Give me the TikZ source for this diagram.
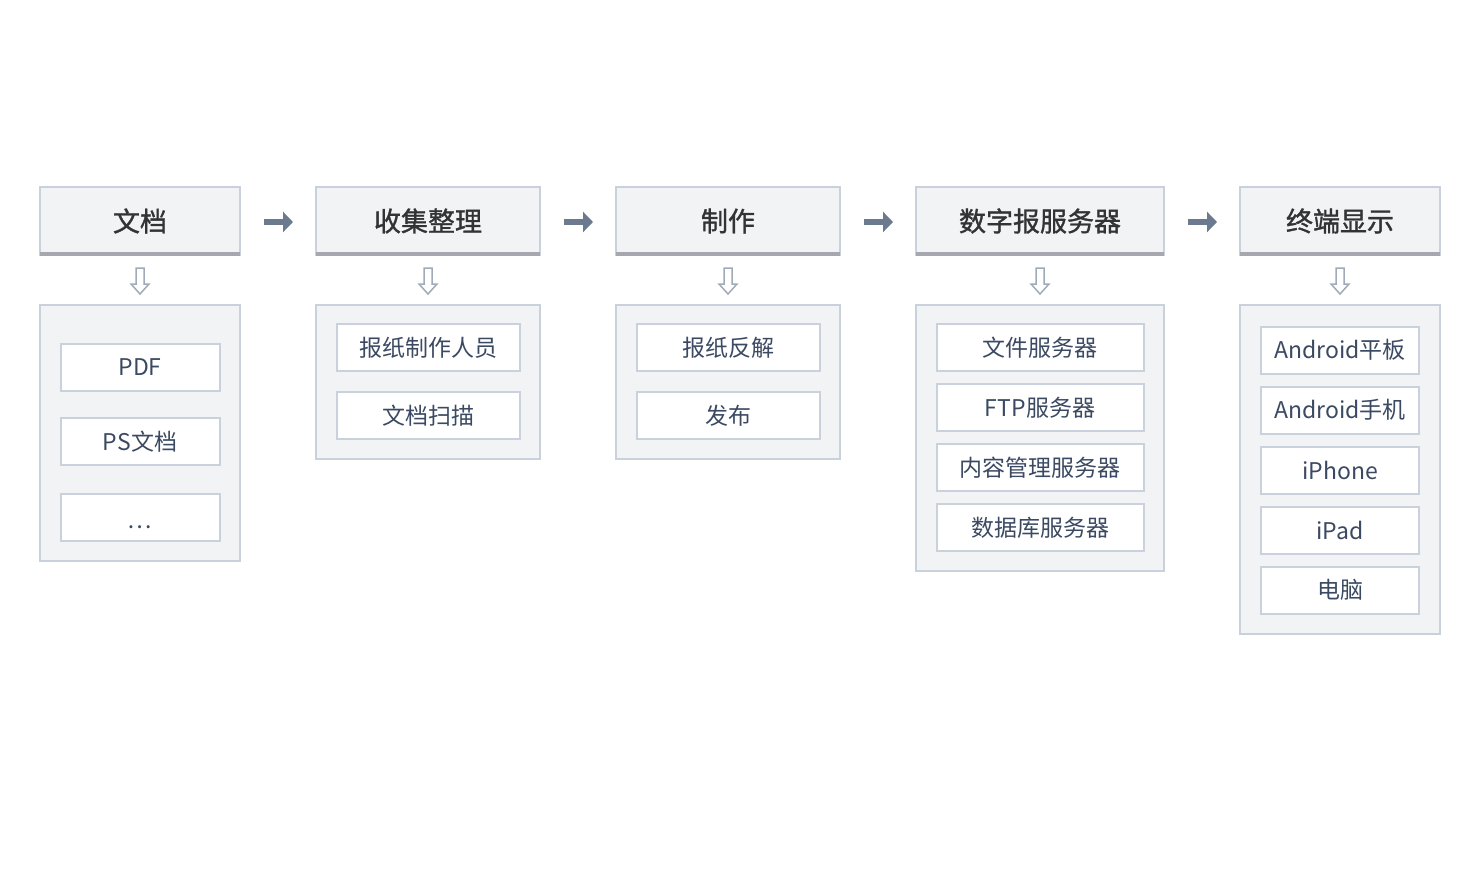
\documentclass[tikz,border=0pt]{standalone}
\usepackage{fontspec}
\setmainfont{Noto Sans CJK SC}
\newfontfamily\hdrfont[FakeBold=1.2]{Noto Sans CJK SC}
\usetikzlibrary{arrows.meta,calc}
\definecolor{hdrfill}{HTML}{F1F3F5}
\definecolor{boxline}{HTML}{C9D1DC}
\definecolor{barcol}{HTML}{A6A7AF}
\definecolor{hdrtext}{HTML}{333333}
\definecolor{itemtext}{HTML}{3B4A62}
\definecolor{arrcol}{HTML}{6B7A8F}
\definecolor{darrcol}{HTML}{A0ABBA}
\tikzset{
  hdr/.style={draw=boxline, line width=2pt, fill=hdrfill, inner sep=0pt, minimum height=68pt,
    text=hdrtext, font=\fontsize{27}{30}\hdrfont},
  bar/.style={draw=barcol, line width=4pt},
  cbox/.style={draw=boxline, line width=2pt, fill=hdrfill, inner sep=0pt},
  item/.style={draw=boxline, line width=2pt, fill=white, inner sep=0pt, minimum height=47pt,
    text=itemtext, font=\fontsize{23}{26}\selectfont},
  rarrow/.style={draw=arrcol, line width=6pt, -{Triangle[length=10pt,width=20pt]},
    shorten <=23pt, shorten >=22pt},
  darrow/.style={draw=darrcol, line width=1.5pt, fill=white, line join=miter},
  pics/downarr/.style={code={
    \draw[darrow] (-4,-13) -- (-4,3) -- (-9,3) -- (0,13) -- (9,3) -- (4,3) -- (4,-13) -- cycle;}}
}
\begin{document}
\begin{tikzpicture}[x=1pt,y=-1pt]
\useasboundingbox (0,0) rectangle (1480,880);
% headers
\node[hdr, minimum width=200pt] (h1) at (140,221) {文档};
\node[hdr, minimum width=224pt] (h2) at (428,221) {收集整理};
\node[hdr, minimum width=224pt] (h3) at (728,221) {制作};
\node[hdr, minimum width=248pt] (h4) at (1040,221) {数字报服务器};
\node[hdr, minimum width=200pt] (h5) at (1340,221) {终端显示};
\foreach \h in {h1,h2,h3,h4,h5}{
  \draw[bar] (\h.south west) ++(1,-2) -- ($(\h.south east)+(-1,-2)$);
}
% right arrows
\draw[rarrow] ($(h1.east)+(0,1)$) -- ($(h2.west)+(0,1)$);
\draw[rarrow] ($(h2.east)+(0,1)$) -- ($(h3.west)+(0,1)$);
\draw[rarrow] ($(h3.east)+(0,1)$) -- ($(h4.west)+(0,1)$);
\draw[rarrow] ($(h4.east)+(0,1)$) -- ($(h5.west)+(0,1)$);
% content boxes
\node[cbox, minimum width=200pt, minimum height=256pt] (c1) at (140,433) {};
\node[cbox, minimum width=224pt, minimum height=154pt] (c2) at (428,382) {};
\node[cbox, minimum width=224pt, minimum height=154pt] (c3) at (728,382) {};
\node[cbox, minimum width=248pt, minimum height=266pt] (c4) at (1040,438) {};
\node[cbox, minimum width=200pt, minimum height=329pt] (c5) at (1340,469.5) {};
% down arrows
\foreach \i in {1,...,5}{
  \pic at ($(h\i.south)!0.5!(c\i.north)+(0,1)$) {downarr};
}
% items column 1
\node[item, minimum width=159pt] (i11) at (140,367.5) {PDF};
\node[item, minimum width=159pt] (i12) at (140,441.5) {PS文档};
\node[item, minimum width=159pt] (i13) at (140,517.5) {\smash{\raisebox{-11pt}{…}}};
% column 2
\node[item, minimum width=183pt] (i21) at (428,347.5) {报纸制作人员};
\node[item, minimum width=183pt] (i22) at (428,415.5) {文档扫描};
% column 3
\node[item, minimum width=183pt] (i31) at (728,347.5) {报纸反解};
\node[item, minimum width=183pt] (i32) at (728,415.5) {发布};
% column 4
\node[item, minimum width=207pt] (i41) at (1040,347.5) {文件服务器};
\node[item, minimum width=207pt] (i42) at (1040,407.5) {FTP服务器};
\node[item, minimum width=207pt] (i43) at (1040,467.5) {内容管理服务器};
\node[item, minimum width=207pt] (i44) at (1040,527.5) {数据库服务器};
% column 5
\node[item, minimum width=158pt] (i51) at (1340,350) {Android平板};
\node[item, minimum width=158pt] (i52) at (1340,410) {Android手机};
\node[item, minimum width=158pt] (i53) at (1340,470) {iPhone};
\node[item, minimum width=158pt] (i54) at (1340,530) {iPad};
\node[item, minimum width=158pt] (i55) at (1340,590) {电脑};
\end{tikzpicture}
\end{document}
